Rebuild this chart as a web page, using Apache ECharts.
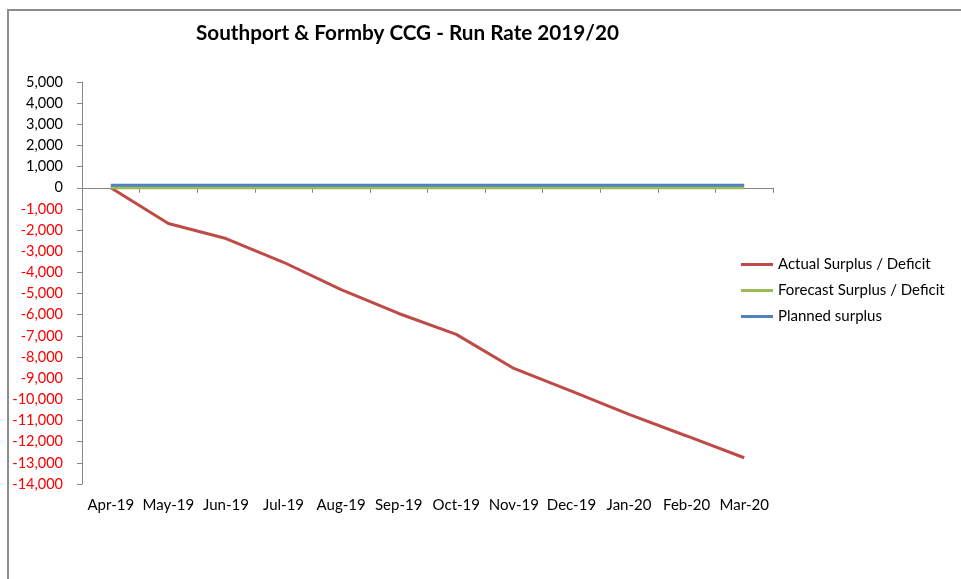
<!DOCTYPE html>
<html>
<head>
<meta charset="utf-8">
<title>Southport &amp; Formby CCG - Run Rate 2019/20</title>
<script src="https://cdn.jsdelivr.net/npm/echarts@6/dist/echarts.min.js"></script>
<style>
  html, body { margin: 0; padding: 0; background: #fff; }
  #chart { width: 961px; height: 579px; }
</style>
</head>
<body>
<div id="chart"></div>
<script>
// Months of the 2019/20 financial year
const months = ['Apr-19', 'May-19', 'Jun-19', 'Jul-19', 'Aug-19', 'Sep-19',
                'Oct-19', 'Nov-19', 'Dec-19', 'Jan-20', 'Feb-20', 'Mar-20'];

// Cumulative position, £000s
const actualSurplusDeficit = [0, -1690, -2400, -3520, -4810, -5940,
                              -6930, -8540, -9610, -10710, -11730, -12760];
const forecastSurplusDeficit = [0, 0, 0, 0, 0, 0, 0, 0, 0, 0, 0, 0];
const plannedSurplus = [120, 120, 120, 120, 120, 120, 120, 120, 120, 120, 120, 120];

const seriesNames = ['Actual Surplus / Deficit', 'Forecast Surplus / Deficit', 'Planned surplus'];

const FONT = 'Lato, "Liberation Sans", sans-serif';
const AXIS_GREY = '#868686';

const chart = echarts.init(document.getElementById('chart'), null, { renderer: 'canvas' });

function fmt(v) {
  const s = Math.abs(v).toString().replace(/\B(?=(\d{3})+(?!\d))/g, ',');
  return (v < 0 ? '-' : '') + s;
}

chart.setOption({
  animation: false,
  backgroundColor: '#fff',
  graphic: [{
    type: 'rect',
    silent: true,
    shape: { x: 8, y: 10, width: 2000, height: 2000 },
    style: { fill: 'none', stroke: '#8c8c8c', lineWidth: 2 }
  }],
  title: {
    text: 'Southport & Formby CCG - Run Rate 2019/20',
    left: 191,
    top: 18,
    textStyle: { fontFamily: FONT, fontSize: 20.7, fontWeight: 'bold', color: '#000' }
  },
  legend: {
    orient: 'vertical',
    left: 736,
    top: 252,
    itemWidth: 32,
    itemHeight: 3,
    itemGap: 11,
    icon: 'rect',
    textStyle: { fontFamily: FONT, fontSize: 15, color: '#000', lineHeight: 15 },
    data: seriesNames
  },
  grid: { left: 82, right: 188, top: 82, bottom: 95, containLabel: false },
  xAxis: [{
    type: 'category',
    data: months,
    boundaryGap: true,
    axisLine: { onZero: true, lineStyle: { color: AXIS_GREY, width: 1 } },
    axisTick: { show: true, inside: false, length: 5, lineStyle: { color: AXIS_GREY } },
    axisLabel: { show: false },
    splitLine: { show: false }
  }, {
    type: 'category',
    data: months,
    position: 'bottom',
    boundaryGap: true,
    axisLine: { show: false, onZero: false },
    axisTick: { show: false },
    axisLabel: { margin: 14, fontFamily: FONT, fontSize: 15, color: '#000', interval: 0 },
    splitLine: { show: false }
  }],
  yAxis: {
    type: 'value',
    min: -14000,
    max: 5000,
    interval: 1000,
    axisLine: { show: true, lineStyle: { color: AXIS_GREY, width: 1 } },
    axisTick: { show: true, inside: false, length: 5, lineStyle: { color: AXIS_GREY } },
    splitLine: { show: false },
    axisLabel: {
      margin: 19,
      fontFamily: FONT,
      fontSize: 14.5,
      formatter: fmt,
      color: function (v) { return Number(v) < 0 ? '#ff0000' : '#000'; }
    }
  },
  series: [{
    name: seriesNames[0],
    type: 'line',
    xAxisIndex: 0,
    data: actualSurplusDeficit,
    symbol: 'none',
    lineStyle: { color: '#be4b48', width: 3 },
    itemStyle: { color: '#be4b48' }
  }, {
    name: seriesNames[1],
    type: 'line',
    xAxisIndex: 0,
    data: forecastSurplusDeficit,
    symbol: 'none',
    lineStyle: { color: '#9bbb59', width: 3 },
    itemStyle: { color: '#9bbb59' }
  }, {
    name: seriesNames[2],
    type: 'line',
    xAxisIndex: 0,
    data: plannedSurplus,
    symbol: 'none',
    lineStyle: { color: '#4f81bd', width: 3 },
    itemStyle: { color: '#4f81bd' }
  }]
});
</script>
</body>
</html>
